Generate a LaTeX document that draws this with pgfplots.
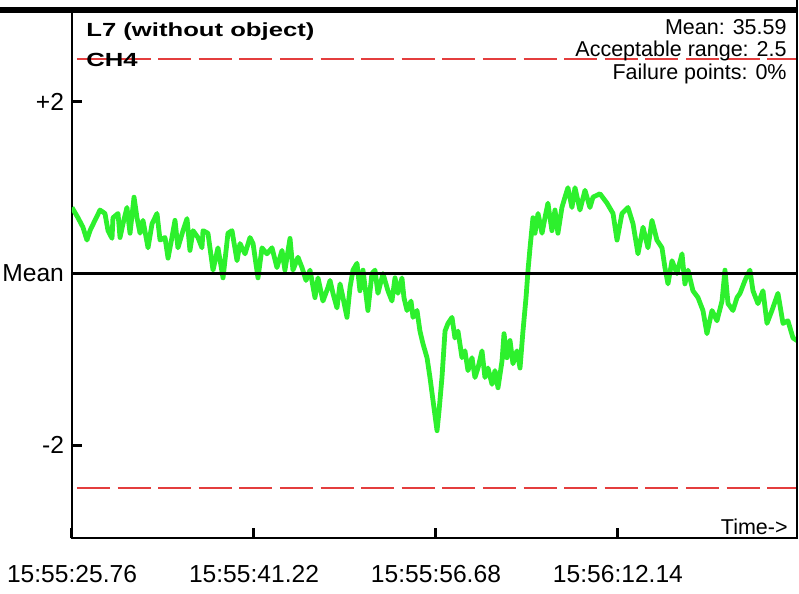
\documentclass[border=0pt]{standalone}
\usepackage{fontspec}
\setmainfont{Liberation Sans}
\usepackage{pgfplots}
\pgfplotsset{compat=1.18}
\definecolor{trace}{RGB}{45,240,45}
\definecolor{limred}{RGB}{228,62,62}

\begin{document}
\begin{tikzpicture}
\begin{axis}[
    scale only axis,
    width=362.5pt, height=264pt,
    xmin=0, xmax=61.59,
    ymin=-3.08, ymax=3.07,
    axis line style={line width=0.8pt},
    xtick={0,15.46,30.92,46.38},
    xticklabels={15:55:25.76,15:55:41.22,15:55:56.68,15:56:12.14},
    ytick={-2,0,2},
    yticklabels={-2,Mean,+2},
    xtick pos=bottom, ytick pos=left,
    tick align=inside,
    major tick length=5pt,
    tick style={line width=1.5pt, black},
    ticklabel style={font=\fontsize{12.3}{14}\selectfont},
    xticklabel style={yshift=-10pt},
    yticklabel style={xshift=-0.5pt},
    clip=true,
]
\addplot[trace, line width=2.4pt, line join=round] coordinates {
(0,0.77)(0.51,0.65)(0.93,0.54)(1.27,0.39)(1.53,0.50)(1.95,0.62)(2.38,0.74)(2.80,0.70)
(3.06,0.50)(3.40,0.41)(3.48,0.65)(3.91,0.70)(4.08,0.42)(4.33,0.58)(4.67,0.77)(4.93,0.47)
(5.27,0.89)(5.52,0.65)(5.78,0.47)(6.03,0.62)(6.46,0.30)(6.80,0.58)(7.22,0.70)(7.48,0.39)
(7.90,0.42)(8.16,0.18)(8.49,0.42)(8.75,0.62)(9.00,0.30)(9.43,0.50)(9.77,0.64)(10.02,0.27)
(10.28,0.50)(10.70,0.42)(11.04,0.30)(11.13,0.50)(11.55,0.47)(11.98,0.04)(12.40,0.30)
(12.83,-0.05)(13.25,0.47)(13.59,0.50)(14.02,0.15)(14.27,0.35)(14.70,0.23)(15.12,0.42)
(15.38,0.35)(15.80,-0.05)(16.14,0.30)(16.56,0.23)(16.99,0.30)(17.41,0.07)(17.84,0.27)
(18.09,0.04)(18.52,0.41)(18.77,0.04)(19.20,0.19)(19.54,0.07)(19.88,-0.08)(20.22,0.04)
(20.64,-0.28)(20.90,-0.05)(21.32,-0.32)(21.75,-0.16)(21.92,-0.08)(22.17,-0.23)(22.51,-0.40)
(22.77,-0.12)(23.02,-0.28)(23.36,-0.51)(23.62,-0.16)(23.87,0.04)(24.21,0.12)(24.46,-0.20)
(24.72,0.04)(25.14,-0.43)(25.48,0.00)(25.74,0.04)(25.99,-0.23)(26.42,0.00)(26.84,-0.20)
(27.18,-0.32)(27.44,-0.05)(27.69,-0.23)(28.03,-0.05)(28.20,-0.28)(28.46,-0.43)(28.80,-0.32)
(28.97,-0.51)(29.31,-0.43)(29.56,-0.67)(29.82,-0.82)(30.16,-0.98)(30.41,-1.21)(30.67,-1.48)
(31.01,-1.83)(31.18,-1.60)(31.43,-1.21)(31.69,-0.67)(31.94,-0.58)(32.28,-0.51)(32.53,-0.75)
(32.79,-0.67)(33.13,-0.98)(33.38,-0.90)(33.64,-1.13)(33.98,-0.98)(34.23,-1.21)(34.49,-1.10)
(34.83,-0.90)(35.08,-1.21)(35.34,-1.10)(35.68,-1.29)(35.93,-1.13)(36.19,-1.33)(36.53,-1.02)
(36.70,-0.70)(36.95,-0.98)(37.21,-0.78)(37.46,-1.05)(37.80,-0.90)(38.06,-1.10)(38.31,-0.67)
(38.57,-0.28)(38.74,0.04)(38.91,0.30)(39.16,0.65)(39.33,0.47)(39.59,0.70)(39.93,0.47)
(40.18,0.65)(40.43,0.82)(40.77,0.50)(41.03,0.74)(41.28,0.47)(41.62,0.77)(41.88,0.89)
(42.13,1.00)(42.47,0.77)(42.73,1.00)(43.15,0.74)(43.58,0.97)(44.00,0.77)(44.26,0.89)
(44.85,0.93)(45.45,0.82)(45.96,0.70)(46.30,0.39)(46.72,0.70)(47.23,0.77)(47.66,0.58)
(48.08,0.23)(48.51,0.54)(48.93,0.30)(49.27,0.62)(49.69,0.39)(50.12,0.30)(50.37,0.07)
(50.63,-0.12)(50.97,0.15)(51.39,0.00)(51.82,0.23)(52.07,-0.12)(52.33,0.04)(52.75,-0.20)
(53.18,-0.28)(53.60,-0.43)(53.94,-0.70)(54.37,-0.43)(54.79,-0.55)(55.22,-0.32)(55.47,0.04)
(55.73,-0.35)(56.15,-0.43)(56.49,-0.28)(56.75,-0.23)(57.17,-0.08)(57.59,0.04)(57.85,-0.20)
(58.27,-0.35)(58.70,-0.20)(59.04,-0.58)(59.46,-0.43)(59.97,-0.23)(60.40,-0.58)(60.82,-0.55)
(61.25,-0.75)(61.59,-0.78)
};
% mean line
\addplot[black, line width=1.5pt] coordinates {(0,0) (61.59,0)};
% acceptable range
\addplot[limred, line width=0.8pt, dash pattern=on 16.5pt off 3.8pt] coordinates {(0.42,2.5) (61.59,2.5)};
\addplot[limred, line width=0.8pt, dash pattern=on 16.5pt off 3.8pt] coordinates {(0.42,-2.5) (61.59,-2.5)};

\node[anchor=base west, inner sep=0pt] at ([xshift=7pt, yshift=-13.5pt]rel axis cs:0,1)
    {\scalebox{1.35}[1]{\fontsize{9.5}{11}\selectfont\bfseries L7 (without object)}};
\node[anchor=base west, inner sep=0pt] at ([xshift=7pt, yshift=-28.5pt]rel axis cs:0,1)
    {\scalebox{1.35}[1]{\fontsize{9.5}{11}\selectfont\bfseries CH4}};
\node[anchor=base east, inner sep=0pt, font=\fontsize{10.75}{12}\selectfont]
    at ([xshift=-5pt, yshift=-12pt]rel axis cs:1,1) {Mean: 35.59};
\node[anchor=base east, inner sep=0pt, font=\fontsize{10.75}{12}\selectfont]
    at ([xshift=-5pt, yshift=-23pt]rel axis cs:1,1) {Acceptable range: 2.5};
\node[anchor=base east, inner sep=0pt, font=\fontsize{10.75}{12}\selectfont]
    at ([xshift=-5pt, yshift=-34.5pt]rel axis cs:1,1) {Failure points: 0\%};
\node[anchor=base east, inner sep=0pt, font=\fontsize{10.75}{12}\selectfont]
    at ([xshift=-4.5pt, yshift=2pt]rel axis cs:1,0) {Time->};
\end{axis}
% heavy top border and right border
\draw[line width=2.6pt] ([xshift=-36pt]current axis.north west) -- ([xshift=0.4pt]current axis.north east);
\draw[line width=0.8pt] (current axis.south east) -- ([yshift=5pt]current axis.north east);
\pgfresetboundingbox
\path[use as bounding box] ([xshift=-36pt, yshift=-27.5pt]current axis.south west)
    rectangle ([xshift=1pt, yshift=5pt]current axis.north east);
\end{tikzpicture}
\end{document}
